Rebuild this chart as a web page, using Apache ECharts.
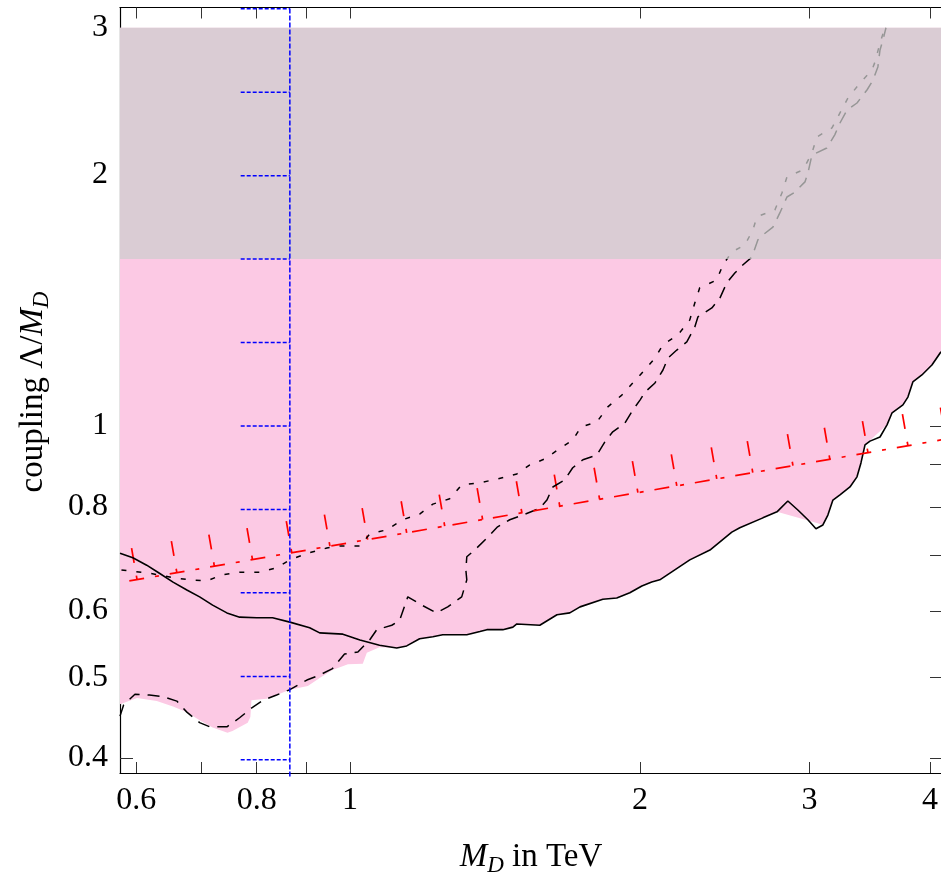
<!DOCTYPE html>
<html>
<head>
<meta charset="utf-8">
<script src="https://cdn.jsdelivr.net/npm/echarts@6/dist/echarts.min.js"></script>
<style>
  html, body { margin: 0; padding: 0; background: #ffffff; }
  #chart { width: 941px; height: 877px; }
</style>
</head>
<body>
<div id="chart"></div>
<script>
// ---- axes (both logarithmic) ----
const xRange = [0.577, 4.127];            // M_D in TeV
const yRange = [0.3838, 3.173];           // coupling Λ/M_D
const xTickValues = [0.6, 0.7, 0.8, 0.9, 1, 2, 3, 4];
const xLabelValues = [0.6, 0.8, 1, 2, 3, 4];
const yTickValues = [0.4, 0.5, 0.6, 0.7, 0.8, 0.9, 1, 2, 3];
const yLabelValues = [0.4, 0.5, 0.6, 0.8, 1, 2, 3];

// ---- solid black bound ----
const solidCurve = [
  [0.577, 0.704], [0.595, 0.695], [0.615, 0.681], [0.634, 0.666], [0.655, 0.650],
  [0.677, 0.636], [0.698, 0.624], [0.720, 0.610], [0.745, 0.597], [0.768, 0.590],
  [0.800, 0.589], [0.831, 0.589], [0.866, 0.582], [0.908, 0.573], [0.930, 0.565],
  [0.983, 0.563], [1.024, 0.554], [1.073, 0.546], [1.118, 0.542], [1.145, 0.545],
  [1.181, 0.556], [1.219, 0.559], [1.248, 0.562], [1.322, 0.562], [1.364, 0.567],
  [1.387, 0.570], [1.441, 0.570], [1.476, 0.574], [1.490, 0.579], [1.574, 0.577],
  [1.640, 0.594], [1.691, 0.597], [1.733, 0.607], [1.830, 0.620], [1.892, 0.622],
  [1.952, 0.631], [2.009, 0.643], [2.057, 0.650], [2.097, 0.654], [2.253, 0.691],
  [2.364, 0.710], [2.491, 0.746], [2.539, 0.755], [2.683, 0.776], [2.775, 0.789],
  [2.848, 0.813], [2.917, 0.793], [2.988, 0.772], [3.046, 0.753], [3.097, 0.761],
  [3.134, 0.782], [3.172, 0.815], [3.226, 0.827], [3.304, 0.845], [3.360, 0.869],
  [3.392, 0.903], [3.425, 0.949], [3.466, 0.959], [3.550, 0.970], [3.610, 1.003],
  [3.654, 1.037], [3.750, 1.060], [3.795, 1.083], [3.840, 1.129], [3.924, 1.151],
  [4.019, 1.183], [4.107, 1.227]
];

// ---- long-dashed black bound ----
const dashedCurve = [
  [0.577, 0.449], [0.582, 0.463], [0.598, 0.477], [0.619, 0.476], [0.639, 0.474],
  [0.661, 0.468], [0.677, 0.454], [0.698, 0.441], [0.715, 0.436], [0.745, 0.436],
  [0.768, 0.447], [0.790, 0.459], [0.812, 0.469], [0.839, 0.476], [0.866, 0.483],
  [0.902, 0.496], [0.930, 0.503], [0.959, 0.512], [0.987, 0.533], [1.019, 0.536],
  [1.048, 0.554], [1.066, 0.570], [1.105, 0.577], [1.126, 0.585], [1.148, 0.624],
  [1.187, 0.610], [1.230, 0.597], [1.263, 0.607], [1.306, 0.624], [1.322, 0.654],
  [1.319, 0.672], [1.322, 0.697], [1.354, 0.714], [1.387, 0.734], [1.423, 0.757],
  [1.465, 0.772], [1.511, 0.782], [1.574, 0.797], [1.601, 0.815], [1.624, 0.845],
  [1.671, 0.862], [1.703, 0.891], [1.745, 0.911], [1.804, 0.923], [1.839, 0.957],
  [1.874, 0.984], [1.929, 1.008], [1.966, 1.045], [2.000, 1.074], [2.024, 1.098],
  [2.073, 1.126], [2.113, 1.167], [2.138, 1.206], [2.184, 1.233], [2.237, 1.261],
  [2.280, 1.314], [2.297, 1.351], [2.375, 1.385], [2.421, 1.423], [2.461, 1.484],
  [2.509, 1.525], [2.557, 1.559], [2.614, 1.594], [2.651, 1.671], [2.683, 1.694],
  [2.748, 1.731], [2.794, 1.800], [2.842, 1.881], [2.897, 1.907], [2.967, 1.961],
  [2.988, 2.010], [3.017, 2.112], [3.126, 2.153], [3.186, 2.233], [3.226, 2.307],
  [3.281, 2.391], [3.360, 2.438], [3.441, 2.527], [3.491, 2.597], [3.532, 2.693],
  [3.550, 2.822], [3.575, 2.901], [3.601, 3.000]
];

// ---- short-dashed black bound ----
const dottedCurve = [
  [0.579, 0.672], [0.619, 0.666], [0.655, 0.658], [0.681, 0.654], [0.710, 0.652],
  [0.736, 0.663], [0.768, 0.668], [0.806, 0.668], [0.839, 0.676], [0.866, 0.691],
  [0.904, 0.704], [0.946, 0.714], [0.976, 0.718], [1.024, 0.718], [1.048, 0.742],
  [1.092, 0.751], [1.134, 0.772], [1.181, 0.784], [1.219, 0.806], [1.269, 0.818],
  [1.306, 0.850], [1.364, 0.855], [1.423, 0.864], [1.490, 0.876], [1.537, 0.898],
  [1.593, 0.913], [1.643, 0.936], [1.703, 0.962], [1.737, 0.997], [1.804, 1.011],
  [1.852, 1.054], [1.915, 1.089], [1.966, 1.126], [2.014, 1.161], [2.073, 1.206],
  [2.113, 1.251], [2.189, 1.285], [2.253, 1.340], [2.280, 1.404], [2.307, 1.464],
  [2.403, 1.496], [2.438, 1.559], [2.491, 1.616], [2.570, 1.648], [2.620, 1.718],
  [2.645, 1.781], [2.761, 1.815], [2.808, 1.902], [2.842, 1.988], [2.953, 2.027],
  [3.017, 2.124], [3.053, 2.220], [3.165, 2.276], [3.226, 2.372], [3.289, 2.473],
  [3.384, 2.576], [3.483, 2.671], [3.508, 2.731], [3.550, 2.877], [3.592, 3.000]
];

// ---- lower edge of the shaded (pink) region ----
const pinkLowerEdge = [
  [0.577, 0.464], [0.601, 0.472], [0.630, 0.468], [0.655, 0.461], [0.677, 0.454],
  [0.698, 0.444], [0.720, 0.435], [0.746, 0.429], [0.755, 0.431], [0.783, 0.441],
  [0.788, 0.448], [0.790, 0.469], [0.819, 0.471], [0.839, 0.476], [0.866, 0.483],
  [0.904, 0.488], [0.930, 0.499], [0.959, 0.510], [0.995, 0.518], [1.031, 0.519],
  [1.041, 0.535], [1.073, 0.543], [1.118, 0.542], [1.145, 0.545], [1.181, 0.556],
  [1.219, 0.559], [1.248, 0.562], [1.322, 0.562], [1.364, 0.567], [1.387, 0.570],
  [1.441, 0.570], [1.476, 0.574], [1.490, 0.579], [1.574, 0.577], [1.640, 0.594],
  [1.691, 0.597], [1.733, 0.607], [1.830, 0.620], [1.892, 0.622], [1.952, 0.631],
  [2.009, 0.643], [2.057, 0.650], [2.097, 0.654], [2.253, 0.691], [2.364, 0.710],
  [2.491, 0.746], [2.539, 0.755], [2.683, 0.776], [2.775, 0.789], [3.053, 0.765],
  [3.097, 0.761], [3.134, 0.782], [3.172, 0.815], [3.226, 0.827], [3.304, 0.845],
  [3.360, 0.869], [3.392, 0.903], [3.425, 0.949], [3.610, 1.003], [3.654, 1.037],
  [3.750, 1.060], [3.795, 1.083], [3.840, 1.129], [3.924, 1.151], [4.019, 1.183],
  [4.127, 1.235]
];
const pinkTop = 3.0;
const grayBand = [1.585, 3.0];

// ---- red dash-dotted limit with hatches on its upper side ----
const redLine = [[0.590, 0.652], [4.127, 0.963]];
const redHatchX = [
  0.601, 0.661, 0.723, 0.792, 0.870, 0.953, 1.043, 1.145, 1.254, 1.373, 1.508,
  1.651, 1.816, 1.990, 2.184, 2.403, 2.619, 2.883, 3.149, 3.449, 3.795, 4.156
];

// ---- blue vertical limit with horizontal hatches ----
const blueBoundX = 0.866;
const blueSpan = [0.38, 3.17];
const blueTickLeftX = 0.770;
const blueTickY = [0.398, 0.501, 0.631, 0.794, 1.0, 1.259, 1.585, 1.995, 2.512, 3.162];

const serif = "'Liberation Serif', 'Times New Roman', serif";
const tickFmt = v => String(Math.round(v * 10) / 10);

function makeAxis(kind, position, range, ticks, labels) {
  const isX = kind === 'x';
  return {
    type: 'log',
    logBase: 10,
    position: position,
    min: range[0],
    max: range[1],
    axisLine: { show: true, onZero: false, lineStyle: { color: '#000', width: 1.2 } },
    axisTick: { show: true, inside: true, length: isX ? 11 : 13, customValues: ticks,
                lineStyle: { color: '#333', width: 1 } },
    axisLabel: labels ? {
      show: true, customValues: labels, formatter: tickFmt,
      fontFamily: serif, fontSize: 32, color: '#000', margin: isX ? 12 : 12
    } : { show: false },
    splitLine: { show: false },
    minorTick: { show: false },
    minorSplitLine: { show: false }
  };
}

const chart = echarts.init(document.getElementById('chart'), null, { renderer: 'canvas' });

const titleRich = {
  i: { fontFamily: serif, fontStyle: 'italic', fontSize: 33, lineHeight: 40 },
  s: { fontFamily: serif, fontStyle: 'italic', fontSize: 23, lineHeight: 22, verticalAlign: 'bottom' }
};

const option = {
  backgroundColor: '#ffffff',
  animation: false,
  grid: { left: 120, top: 7.5, right: -2, bottom: 104, containLabel: false, outerBoundsMode: 'none' },
  xAxis: [
    makeAxis('x', 'bottom', xRange, xTickValues, xLabelValues),
    makeAxis('x', 'top', xRange, xTickValues, null)
  ],
  yAxis: [
    makeAxis('y', 'left', yRange, yTickValues, yLabelValues),
    makeAxis('y', 'right', yRange, yTickValues, null)
  ],
  graphic: [
    {
      type: 'text', x: 531, y: 857, silent: true,
      style: {
        text: '{i|M}{s|D} in TeV',
        fontFamily: serif, fontSize: 33, fill: '#000', lineHeight: 40,
        align: 'center', verticalAlign: 'middle',
        rich: titleRich
      }
    },
    {
      type: 'text', x: 33, y: 392, rotation: Math.PI / 2, silent: true,
      style: {
        text: 'coupling Λ/{i|M}{s|D}',
        fontFamily: serif, fontSize: 33, fill: '#000', lineHeight: 40,
        align: 'center', verticalAlign: 'middle',
        rich: titleRich
      }
    }
  ],
  series: [
    // shaded region between the lower edge and the top of the gray band
    {
      type: 'custom', z: 1, silent: true,
      data: [[1, 1]],
      renderItem: function (params, api) {
        const pts = pinkLowerEdge.map(p => api.coord(p));
        const first = pinkLowerEdge[0];
        const last = pinkLowerEdge[pinkLowerEdge.length - 1];
        pts.push(api.coord([last[0], pinkTop]));
        pts.push(api.coord([first[0], pinkTop]));
        return { type: 'polygon', shape: { points: pts }, style: { fill: '#fcc9e4' } };
      }
    },
    {
      type: 'line', z: 3, data: solidCurve, symbol: 'none', silent: true,
      lineStyle: { color: '#000', width: 1.6 }
    },
    {
      type: 'line', z: 3, data: dashedCurve, symbol: 'none', silent: true,
      lineStyle: { color: '#000', width: 1.5, type: [12, 8] }
    },
    {
      type: 'line', z: 3, data: dottedCurve, symbol: 'none', silent: true,
      lineStyle: { color: '#000', width: 1.5, type: [5, 10] }
    },
    {
      type: 'line', z: 3, data: redLine, symbol: 'none', silent: true,
      lineStyle: { color: '#ff0000', width: 1.7, type: [15, 11, 4, 11] }
    },
    // hatches on the upper side of the red limit
    {
      type: 'custom', z: 3, silent: true,
      data: redHatchX.map(x => [x, redLine[0][1]]),
      renderItem: function (params, api) {
        const a = api.coord(redLine[0]);
        const b = api.coord(redLine[1]);
        const px = api.coord([api.value(0), redLine[0][1]])[0];
        const t = (px - a[0]) / (b[0] - a[0]);
        const py = a[1] + t * (b[1] - a[1]);
        const dx = b[0] - a[0], dy = b[1] - a[1];
        const len = Math.hypot(dx, dy);
        const nx = dy / len, ny = -dx / len;
        const L = 32;
        return {
          type: 'line',
          shape: { x1: px + nx * L, y1: py + ny * L, x2: px, y2: py },
          style: { stroke: '#ff0000', lineWidth: 1.7, lineDash: [15, 13], fill: null }
        };
      }
    },
    // translucent gray band
    {
      type: 'custom', z: 6, silent: true,
      data: [[1, 1]],
      renderItem: function (params, api) {
        const p0 = api.coord([xRange[0], grayBand[1]]);
        const p1 = api.coord([xRange[1], grayBand[0]]);
        return {
          type: 'rect',
          shape: { x: p0[0], y: p0[1], width: p1[0] - p0[0], height: p1[1] - p0[1] },
          style: { fill: 'rgba(205,205,205,0.73)' }
        };
      }
    },
    // blue limit: vertical line plus short horizontal hatches
    {
      type: 'line', z: 8, clip: false, silent: true, symbol: 'none',
      data: [[blueBoundX, blueSpan[0]], [blueBoundX, blueSpan[1]]],
      lineStyle: { color: '#0000ff', width: 1.5, type: [5, 2] }
    },
    {
      type: 'custom', z: 8, silent: true,
      data: blueTickY.map(y => [blueTickLeftX, y]),
      renderItem: function (params, api) {
        const y = api.value(1);
        const a = api.coord([blueTickLeftX, y]);
        const b = api.coord([blueBoundX, y]);
        return {
          type: 'line',
          shape: { x1: a[0], y1: a[1], x2: b[0], y2: b[1] },
          style: { stroke: '#0000ff', lineWidth: 1.5, lineDash: [4, 2], fill: null }
        };
      }
    }
  ]
};

chart.setOption(option);
</script>
</body>
</html>
